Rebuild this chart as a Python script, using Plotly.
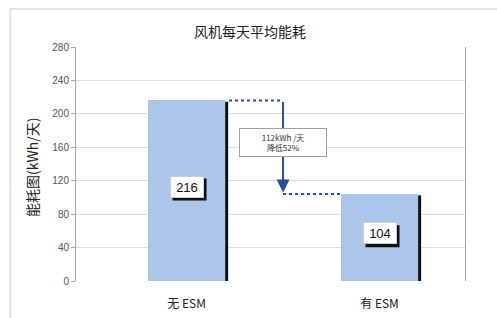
import plotly.graph_objects as go

categories = ["无 ESM", "有 ESM"]
values = [216, 104]
value_labels = ["216", "104"]
title_text = "风机每天平均能耗"
y_title = "能耗图(kWh/天)"
note_text = "112kWh /天<br>降低52%"
y_ticks = [0, 40, 80, 120, 160, 200, 240, 280]

BAR_W = 0.4
BAR_COLOR = "#abc6e8"
ARROW_COLOR = "#2a4f9f"
CJK = "Noto Sans CJK SC"
LAT = "Liberation Sans"

xs = list(range(len(categories)))

fig = go.Figure()
fig.add_trace(go.Bar(
    x=xs, y=values, width=BAR_W, marker=dict(color=BAR_COLOR, line=dict(width=0)),
    hoverinfo="skip", showlegend=False,
))

shapes = []
# black shadow on right side of bars
for i, v in zip(xs, values):
    shapes.append(dict(type="rect", xref="x", yref="y", xsizemode="pixel",
                       xanchor=i + BAR_W / 2, x0=0, x1=3, y0=0, y1=v - 1.5,
                       fillcolor="#111111", line=dict(width=0), layer="above"))

mid = (xs[0] + xs[1]) / 2
# dotted connectors
shapes.append(dict(type="line", xref="x", yref="y", x0=xs[0] + BAR_W / 2 + 0.02, x1=mid,
                   y0=values[0], y1=values[0], line=dict(color=ARROW_COLOR, width=2, dash="dot")))
shapes.append(dict(type="line", xref="x", yref="y", x0=mid, x1=xs[1] - BAR_W / 2,
                   y0=values[1], y1=values[1], line=dict(color=ARROW_COLOR, width=2, dash="dot")))
# outer frame (top & left visible)
shapes.append(dict(type="rect", xref="paper", yref="paper", x0=-0.169, x1=1.2, y0=-0.3, y1=1.162,
                   line=dict(color="#dcdcdc", width=1.5), fillcolor="rgba(0,0,0,0)", layer="below"))

annotations = []
# arrow
annotations.append(dict(x=mid, y=values[1] + 2, ax=mid, ay=values[0], xref="x", yref="y",
                        axref="x", ayref="y", text="", showarrow=True, arrowhead=2,
                        arrowsize=1.3, arrowwidth=2, arrowcolor=ARROW_COLOR))
# note box
annotations.append(dict(x=mid, y=(values[0] + values[1]) / 2 + 6, xref="x", yref="y",
                        text=note_text, showarrow=False, bgcolor="white",
                        bordercolor="#a0a0a0", borderwidth=1, borderpad=3,
                        font=dict(family=CJK, size=8, color="#333333"), width=80,
                        align="center"))
# value labels with shadow
for i, v, t in zip(xs, values, value_labels):
    yy = v / 2 + 5
    shapes.append(dict(type="rect", xref="x", yref="y", xsizemode="pixel", ysizemode="pixel",
                       xanchor=i, yanchor=yy, x0=-14, x1=20, y0=-14, y1=8,
                       fillcolor="#111111", line=dict(width=0), layer="above"))
    annotations.append(dict(x=i, y=yy, xref="x", yref="y", text=t, showarrow=False,
                            bgcolor="white", bordercolor="#cccccc", borderwidth=1, borderpad=1,
                            width=30, height=18,
                            font=dict(family=LAT, size=13, color="#111111")))
# title
annotations.append(dict(x=(250 - 76) / 389, y=1 + (47 - 31) / 234, xref="paper", yref="paper",
                        text=title_text, showarrow=False, yanchor="middle",
                        font=dict(family=CJK, size=14, color="#222222")))
# y title
annotations.append(dict(x=(32 - 76) / 389, y=(281 - 168) / 234, xref="paper", yref="paper",
                        text=y_title, showarrow=False, textangle=-90,
                        xanchor="center", yanchor="middle",
                        font=dict(family=CJK, size=14, color="#222222")))

fig.update_layout(
    width=497, height=318,
    margin=dict(l=76, r=32, t=47, b=37, autoexpand=False),
    paper_bgcolor="white", plot_bgcolor="white",
    shapes=shapes, annotations=annotations,
    bargap=0,
    xaxis=dict(range=[-0.573, 1.443], tickmode="array", tickvals=xs, ticktext=categories,
               showgrid=False, zeroline=False, showline=False, automargin=False,
               ticks="outside", ticklen=12, tickcolor="rgba(0,0,0,0)",
               tickfont=dict(family=CJK, size=12, color="#222222"), fixedrange=True),
    yaxis=dict(range=[0, 280], tickmode="array", tickvals=y_ticks, automargin=False,
               showgrid=True, gridcolor="#dedede", gridwidth=1, zeroline=False,
               showline=True, linecolor="#a8a8a8", linewidth=1, mirror=True,
               ticks="outside", ticklen=4, tickcolor="#a8a8a8",
               tickfont=dict(family=LAT, size=10, color="#555555"),
               fixedrange=True),
    showlegend=False,
)

fig.write_html("out.html", config={"displayModeBar": False})
with open("out.html", encoding="utf-8") as f:
    html = f.read()
html = html.replace("<body>", '<body style="margin:0;padding:0;overflow:hidden">', 1)
with open("out.html", "w", encoding="utf-8") as f:
    f.write(html)
